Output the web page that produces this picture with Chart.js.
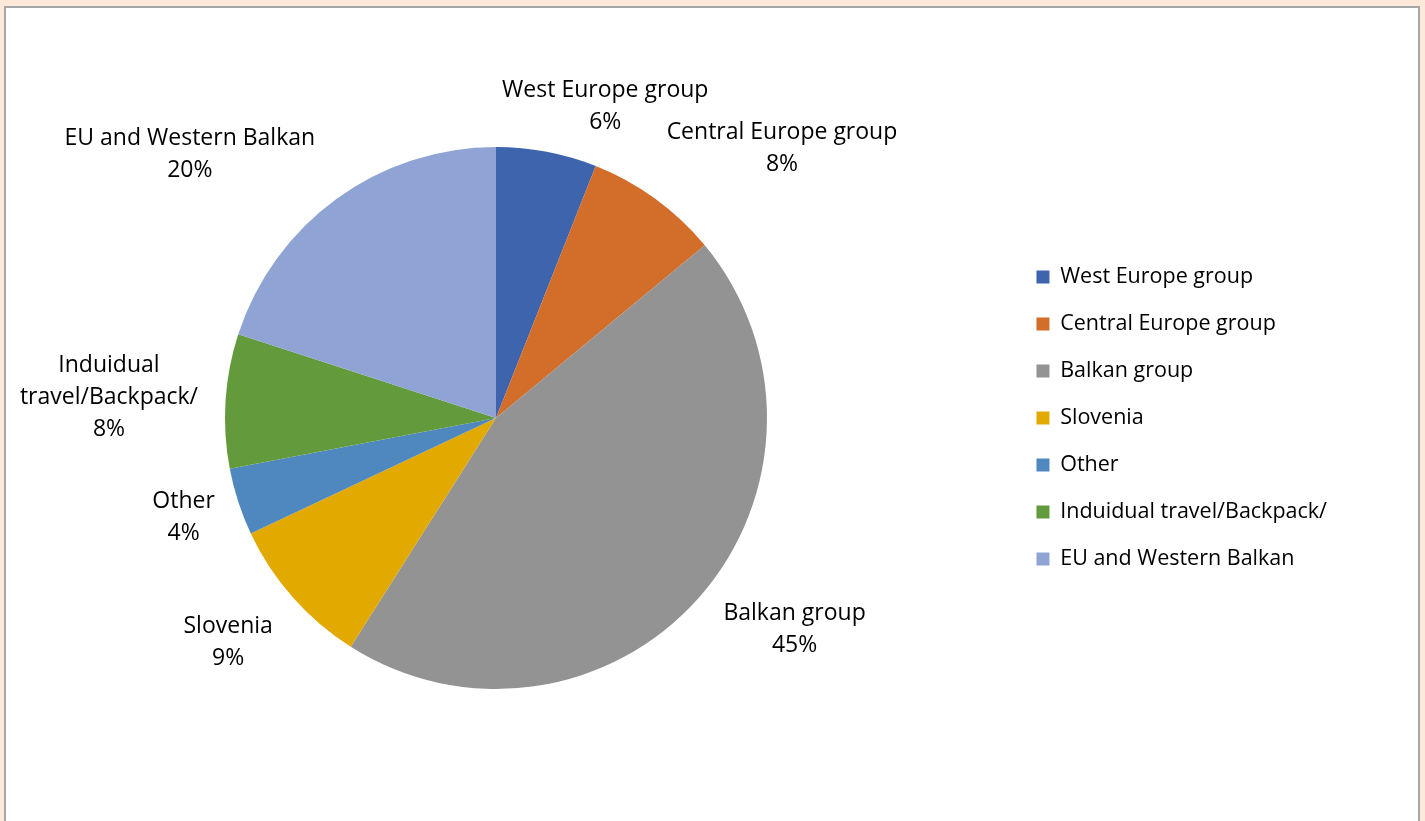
<!DOCTYPE html>
<html>
<head>
<meta charset="utf-8">
<script src="https://cdn.jsdelivr.net/npm/chart.js@4"></script>
<style>
  html, body { margin: 0; padding: 0; background: #fde9d9; overflow: hidden; }
  #frame {
    position: absolute; left: 4px; top: 6px;
    width: 1412px; height: 900px;
    background: #fff;
    border: 2px solid #a6a6a6; border-bottom: none;
    overflow: hidden;
  }
  /* canvas reaches a little past the frame's left edge so the pie sits left of the legend gap */
  #wrap { position: absolute; left: -25px; top: 0; width: 1437px; height: 813px; }
</style>
</head>
<body>
<div id="frame"><div id="wrap"><canvas id="chartPie"></canvas></div></div>
<script>
let categories = ['West Europe group', 'Central Europe group', 'Balkan group', 'Slovenia', 'Other', 'Induidual travel/Backpack/', 'EU and Western Balkan'];
let shares = [6, 8, 45, 9, 4, 8, 20];
let colorHex = ['#3d64ad', '#d36d2a', '#939393', '#e2aa00', '#4f88bf', '#639b3c', '#8fa3d4'];

// slice labels wrap only where the long one breaks
let labelLines = categories.map(c => c === 'Induidual travel/Backpack/' ? ['Induidual', 'travel/Backpack/'] : [c]);

const FONT = '"Open Sans", sans-serif';

// name + percentage next to each slice, placed around the arc's mid angle
const sliceLabels = {
  id: 'sliceLabels',
  afterDatasetsDraw(chart, args, opts) {
    const ctx = chart.ctx;
    const meta = chart.getDatasetMeta(0);
    const total = shares.reduce((a, b) => a + b, 0);
    ctx.save();
    ctx.font = opts.size + 'px ' + FONT;
    ctx.fillStyle = opts.color;
    ctx.textAlign = 'center';
    ctx.textBaseline = 'middle';
    meta.data.forEach((arc, i) => {
      const p = arc.getProps(['x', 'y', 'startAngle', 'endAngle', 'outerRadius'], true);
      const [turn, dist] = opts.placement[i];
      const a = (p.startAngle + p.endAngle) / 2 + turn * Math.PI / 180;
      const cx = p.x + Math.cos(a) * p.outerRadius * dist;
      const cy = p.y + Math.sin(a) * p.outerRadius * dist;
      const lines = labelLines[i].concat(Math.round(shares[i] / total * 100) + '%');
      const top = cy - (lines.length - 1) * opts.lineHeight / 2;
      lines.forEach((t, k) => ctx.fillText(t, cx, top + k * opts.lineHeight));
    });
    ctx.restore();
  }
};

let pie = document.getElementById('chartPie').getContext('2d');

let chartPie = new Chart(pie, {
  type: 'pie',
  data: {
    labels: categories,
    datasets: [{
      data: shares,
      backgroundColor: colorHex,
      borderWidth: 0
    }]
  },
  options: {
    responsive: true,
    maintainAspectRatio: false,
    animation: false,
    layout: { padding: { top: 139, bottom: 132, left: 0, right: 81 } },
    plugins: {
      tooltip: { enabled: false },
      legend: {
        position: 'right',
        align: 'center',
        labels: {
          font: { family: FONT, size: 21.5 },
          color: '#000',
          boxWidth: 13,
          boxHeight: 13,
          padding: 25.5
        }
      },
      sliceLabels: {
        size: 23,
        lineHeight: 32,
        color: '#000',
        // [angle shift in degrees, distance as a multiple of the radius]
        placement: [[8.5, 1.22], [10.7, 1.45], [-6.1, 1.35], [1.4, 1.29], [0.3, 1.21], [-0.6, 1.43], [-13.3, 1.49]]
      }
    }
  },
  plugins: [sliceLabels]
});
</script>
</body>
</html>
